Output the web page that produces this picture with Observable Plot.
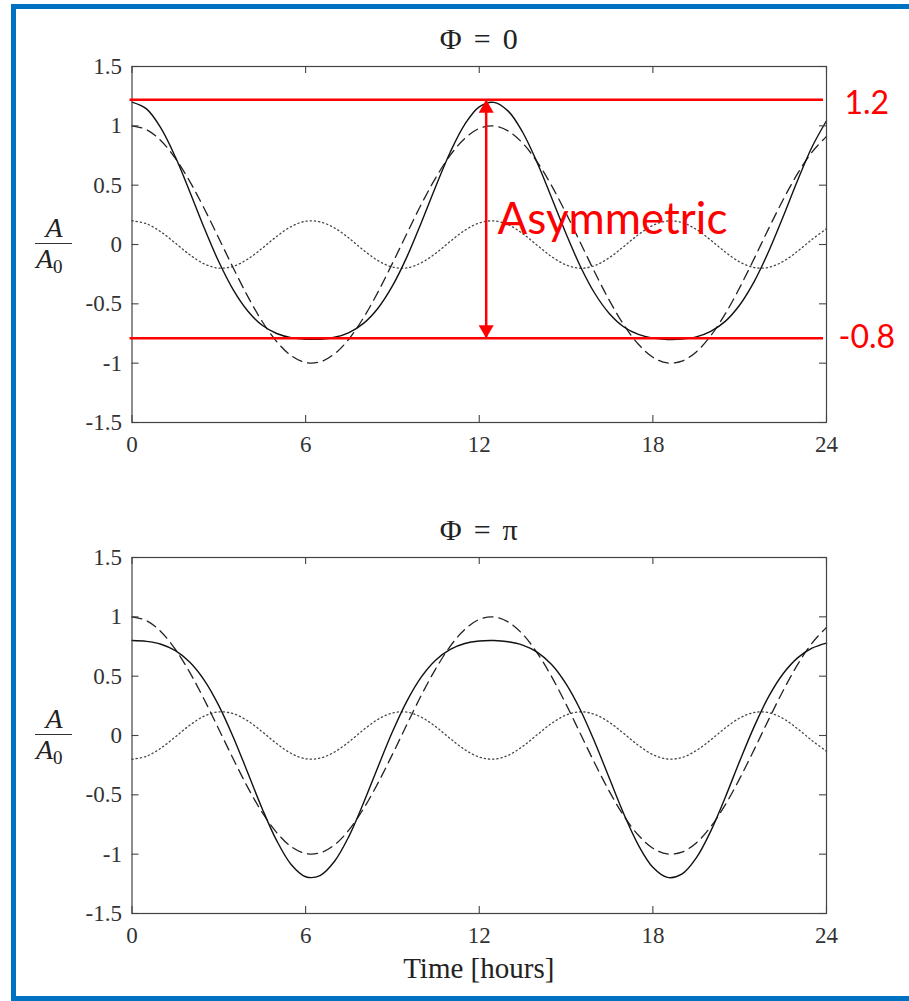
<!DOCTYPE html>
<html><head><meta charset="utf-8">
<script src="https://cdn.jsdelivr.net/npm/d3@7"></script>
<script src="https://cdn.jsdelivr.net/npm/@observablehq/plot@0.6"></script>
<style>
html,body{margin:0;padding:0;background:#fff;}
body{width:909px;height:1001px;overflow:hidden;position:relative;}
#border{position:absolute;left:11px;top:4px;width:1000px;height:997px;box-sizing:border-box;border-left:5px solid #0070C0;border-top:5px solid #0070C0;border-bottom:5px solid #0070C0;}
.panel{position:absolute;left:0;}
.lbl{position:absolute;font-family:"Liberation Serif",serif;color:#222;line-height:1;white-space:nowrap;}
.bar{position:absolute;background:#333;height:1.3px;}
</style></head><body>
<div id="border"></div>
<div id="top" class="panel" style="top:0px"></div>
<div id="bot" class="panel" style="top:491px"></div>
<script>
// ---- data (half-hour samples) ----
const hours = [0,0.5,1,1.5,2,2.5,3,3.5,4,4.5,5,5.5,6,6.5,7,7.5,8,8.5,9,9.5,10,10.5,11,11.5,12,12.5,13,13.5,14,14.5,15,15.5,16,16.5,17,17.5,18,18.5,19,19.5,20,20.5,21,21.5,22,22.5,23,23.5,24];
const m2 = [1.000,0.968,0.875,0.726,0.530,0.301,0.053,-0.198,-0.437,-0.649,-0.818,-0.936,-0.994,-0.989,-0.921,-0.795,-0.617,-0.401,-0.159,0.093,0.340,0.564,0.753,0.894,0.978,0.999,0.957,0.854,0.697,0.496,0.263,0.013,-0.238,-0.473,-0.679,-0.841,-0.950,-0.998,-0.983,-0.905,-0.769,-0.585,-0.363,-0.119,0.134,0.377,0.597,0.779,0.911];
const m4Phi0 = [0.200,0.175,0.106,0.011,-0.087,-0.164,-0.199,-0.184,-0.123,-0.032,0.068,0.151,0.196,0.191,0.139,0.053,-0.048,-0.136,-0.190,-0.197,-0.154,-0.073,0.027,0.119,0.182,0.199,0.167,0.092,-0.006,-0.102,-0.172,-0.200,-0.177,-0.110,-0.016,0.083,0.161,0.198,0.186,0.127,0.037,-0.063,-0.147,-0.194,-0.193,-0.143,-0.057,0.043,0.132];
const sumPhi0 = [1.200,1.143,0.981,0.737,0.443,0.137,-0.146,-0.382,-0.560,-0.681,-0.750,-0.785,-0.798,-0.798,-0.782,-0.742,-0.665,-0.537,-0.349,-0.104,0.186,0.491,0.780,1.013,1.160,1.198,1.124,0.946,0.691,0.394,0.091,-0.187,-0.415,-0.583,-0.695,-0.758,-0.789,-0.800,-0.797,-0.778,-0.732,-0.648,-0.510,-0.313,-0.059,0.234,0.540,0.822,1.043];
const m4PhiPi = [-0.200,-0.175,-0.106,-0.011,0.087,0.164,0.199,0.184,0.123,0.032,-0.068,-0.151,-0.196,-0.191,-0.139,-0.053,0.048,0.136,0.190,0.197,0.154,0.073,-0.027,-0.119,-0.182,-0.199,-0.167,-0.092,0.006,0.102,0.172,0.200,0.177,0.110,0.016,-0.083,-0.161,-0.198,-0.186,-0.127,-0.037,0.063,0.147,0.194,0.193,0.143,0.057,-0.043,-0.132];
const sumPhiPi = [0.800,0.793,0.769,0.715,0.617,0.465,0.252,-0.014,-0.314,-0.617,-0.886,-1.087,-1.190,-1.180,-1.060,-0.848,-0.569,-0.265,0.031,0.290,0.494,0.637,0.726,0.775,0.796,0.800,0.790,0.762,0.703,0.598,0.435,0.213,-0.061,-0.363,-0.663,-0.924,-1.111,-1.196,-1.169,-1.032,-0.806,-0.522,-0.216,0.075,0.327,0.520,0.654,0.736,0.779];
const xTicks = [0,6,12,18,24];
const yTicks = [-1.5,-1,-0.5,0,0.5,1,1.5];
const panelTitles = ["Φ = 0", "Φ = π"];
const xLabel = "Time [hours]";
// red annotation (top panel)
const annotLevels = [1.22, -0.79];
const annotLabels = ["1.2", "-0.8"];
const arrowTime = 12.24;
const annotWord = [{t: 12.63, v: 0.21, label: "Asymmetric"}];

const W = 909, H = 470, MT = 66, MB = 48, ML = 131.5, MR = 83;
const PW = W - ML - MR, PH = H - MT - MB;
const ink = "#444";

function panel(m4, sum, extra) {
  const rows = hours.map((t, i) => ({t, m2: m2[i], m4: m4[i], sum: sum[i]}));
  return Plot.plot({
    width: W, height: H, marginTop: MT, marginBottom: MB, marginLeft: ML, marginRight: MR,
    style: {fontFamily: "'Liberation Serif', serif", fontSize: "23px", color: "#333", background: "transparent", overflow: "visible"},
    x: {domain: [0, 24], ticks: xTicks, tickFormat: d => String(d), tickSize: 0, tickPadding: 13, label: null},
    y: {domain: [-1.5, 1.5], ticks: yTicks, tickFormat: d => String(d), tickSize: 0, tickPadding: 10, label: null},
    marks: [
      Plot.line(rows, {x: "t", y: "m4", stroke: "#444", strokeWidth: 1.3, strokeDasharray: "1.2,3", curve: "catmull-rom"}),
      Plot.line(rows, {x: "t", y: "m2", stroke: "#222", strokeWidth: 1.3, strokeDasharray: "10,6", curve: "catmull-rom"}),
      Plot.line(rows, {x: "t", y: "sum", stroke: "#111", strokeWidth: 1.4, curve: "catmull-rom"}),
      Plot.tickX(xTicks, {x: d => d, insetTop: PH - 7, stroke: ink, strokeWidth: 1.1}),
      Plot.tickX(xTicks, {x: d => d, insetBottom: PH - 7, stroke: ink, strokeWidth: 1.1}),
      Plot.tickY(yTicks, {y: d => d, insetRight: PW - 7, stroke: ink, strokeWidth: 1.1}),
      Plot.tickY(yTicks, {y: d => d, insetLeft: PW - 7, stroke: ink, strokeWidth: 1.1}),
      Plot.frame({stroke: ink, strokeWidth: 1.2}),
      ...extra
    ]
  });
}

const red = "#ff0000";
const topExtra = [
  Plot.ruleY(annotLevels, {y: d => d, stroke: red, strokeWidth: 2.5, insetLeft: -2, insetRight: 3}),
  Plot.ruleX([arrowTime], {x: d => d, y1: annotLevels[1], y2: annotLevels[0], stroke: red, strokeWidth: 2.5}),
  Plot.dot([arrowTime], {x: d => d, y: () => annotLevels[0], symbol: "triangle", r: 5.6, fill: red, stroke: "none", dy: 8.7}),
  Plot.dot([arrowTime], {x: d => d, y: () => annotLevels[1], symbol: "triangle", r: 5.6, fill: red, stroke: "none", rotate: 180, dy: -8.7}),
  Plot.text(annotWord, {x: "t", y: "v", text: "label", textAnchor: "start", lineAnchor: "middle", fontSize: 44, fontFamily: "Lato, sans-serif", fill: red}),
  Plot.text([0], {y: () => annotLevels[0], text: () => annotLabels[0], frameAnchor: "right", textAnchor: "start", lineAnchor: "middle", dx: 18, dy: 4.5, fontSize: 32, fontFamily: "Lato, sans-serif", fill: red}),
  Plot.text([1], {y: () => annotLevels[1], text: () => annotLabels[1], frameAnchor: "right", textAnchor: "start", lineAnchor: "middle", dx: 12, dy: 0, fontSize: 32, fontFamily: "Lato, sans-serif", fill: red})
];

document.getElementById("top").append(panel(m4Phi0, sumPhi0, topExtra));
document.getElementById("bot").append(panel(m4PhiPi, sumPhiPi, []));

// text labels (HTML)
function lbl(text, left, baseline, size, opts = {}) {
  const d = document.createElement("div");
  d.className = "lbl";
  d.innerHTML = text;
  d.style.fontSize = size + "px";
  d.style.top = (baseline - 0.8375 * size) + "px";
  if (opts.center) { d.style.left = (left - 150) + "px"; d.style.width = "300px"; d.style.textAlign = "center"; }
  else d.style.left = left + "px";
  if (opts.ws) d.style.wordSpacing = opts.ws;
  document.body.append(d);
  return d;
}
const plotCenter = ML + PW / 2;
const offsets = [0, 491];
offsets.forEach((off, i) => {
  lbl(panelTitles[i], plotCenter, 49 + off, 30, {center: true, ws: "0.15em"});
  lbl("<i>A</i>", 54, 237 + off, 28, {center: true});
  const b = document.createElement("div");
  b.className = "bar";
  b.style.left = "35px"; b.style.width = "37px"; b.style.top = (243 + off) + "px";
  document.body.append(b);
  lbl("<i>A</i><span style=\"font-size:19px;position:relative;top:5px;\">0</span>", 36, 268 + off, 28);
});
lbl(xLabel, plotCenter, 978, 29, {center: true});
</script>
</body></html>
